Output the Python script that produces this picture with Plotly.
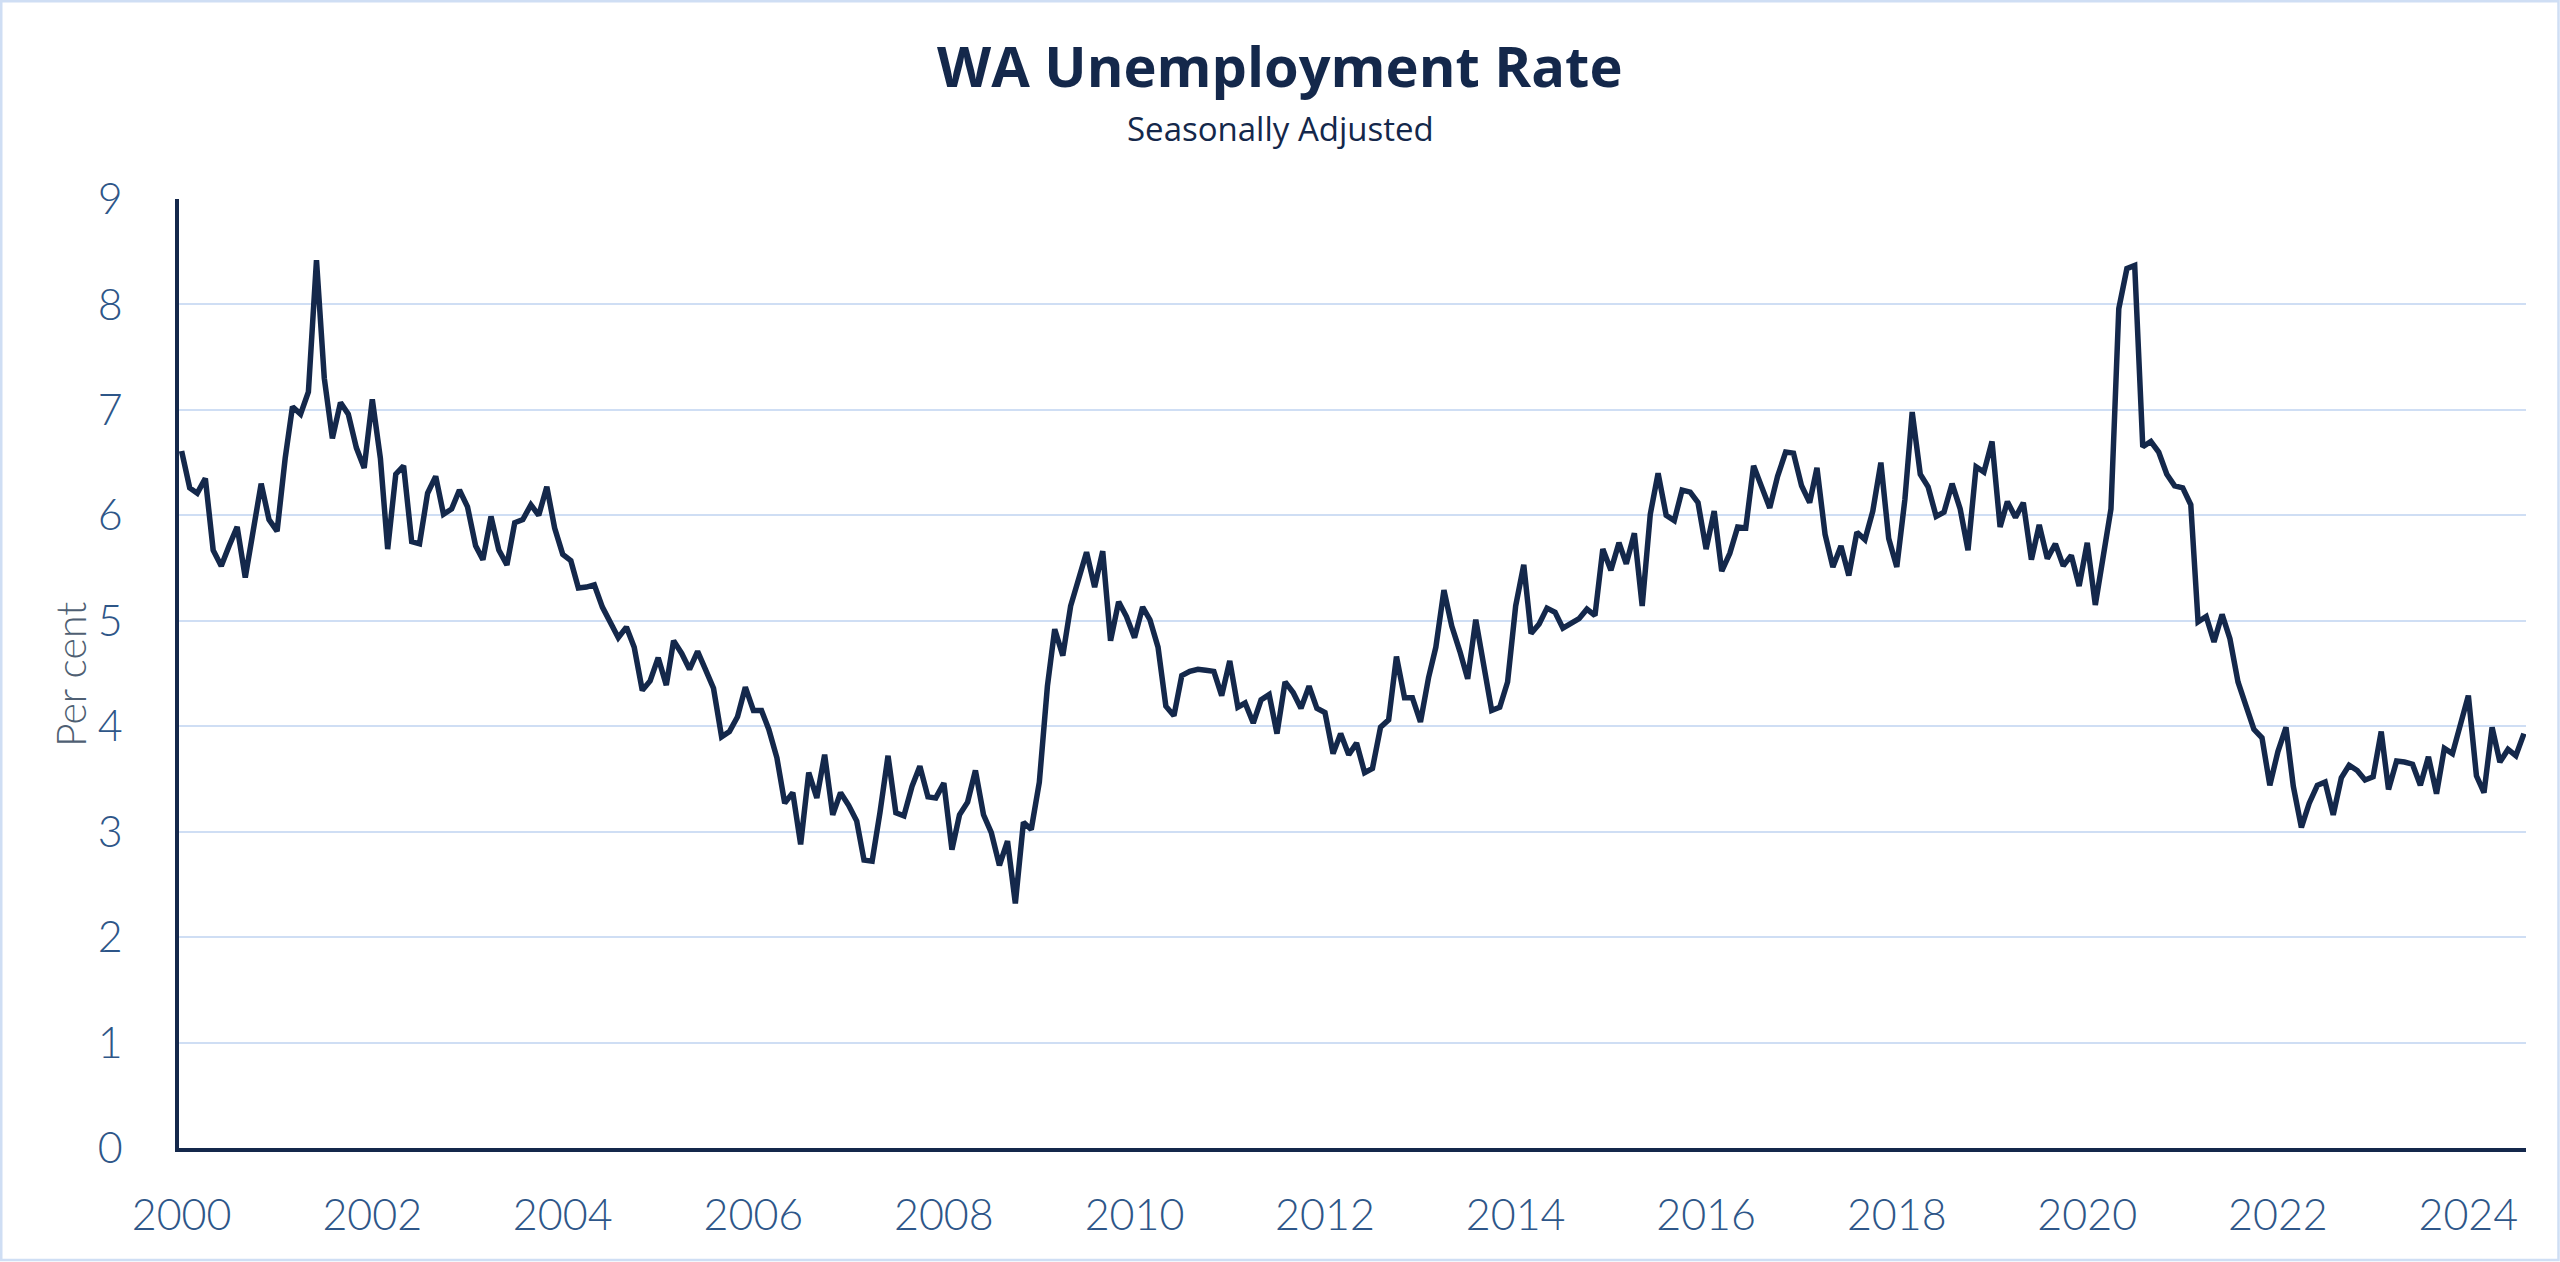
import pandas as pd
import plotly.graph_objects as go

# WA unemployment rate, seasonally adjusted, monthly from Jan 2000 (per cent)
rate_2000_2004 = [
    6.61, 6.26, 6.21, 6.35, 5.67, 5.52, 5.71, 5.89, 5.41, 5.84, 6.30, 5.96,
    5.85, 6.54, 7.03, 6.96, 7.17, 8.42, 7.30, 6.73, 7.07, 6.96, 6.64, 6.45,
    7.10, 6.54, 5.68, 6.39, 6.47, 5.75, 5.73, 6.21, 6.37, 6.01, 6.06, 6.24,
    6.08, 5.71, 5.58, 5.99, 5.67, 5.53, 5.93, 5.96, 6.10, 6.00, 6.27, 5.88,
    5.63, 5.57, 5.31, 5.32, 5.34, 5.13, 5.00, 4.84, 4.94, 4.75, 4.34, 4.43,
]
rate_2005_2009 = [
    4.65, 4.39, 4.81, 4.69, 4.54, 4.71, 4.54, 4.36, 3.90, 3.95, 4.09, 4.37,
    4.15, 4.15, 3.97, 3.70, 3.27, 3.37, 2.88, 3.56, 3.32, 3.73, 3.16, 3.37,
    3.25, 3.10, 2.73, 2.72, 3.18, 3.72, 3.18, 3.15, 3.43, 3.62, 3.33, 3.32,
    3.46, 2.83, 3.16, 3.28, 3.58, 3.16, 2.99, 2.68, 2.91, 2.32, 3.09, 3.02,
    3.47, 4.38, 4.92, 4.67, 5.14, 5.41, 5.65, 5.32, 5.66, 4.81, 5.18, 5.04,
]
rate_2010_2014 = [
    4.84, 5.13, 5.01, 4.75, 4.19, 4.10, 4.48, 4.52, 4.54, 4.53, 4.52, 4.29,
    4.62, 4.18, 4.22, 4.03, 4.25, 4.30, 3.93, 4.42, 4.32, 4.17, 4.38, 4.17,
    4.13, 3.74, 3.93, 3.73, 3.84, 3.56, 3.60, 3.99, 4.06, 4.66, 4.27, 4.27,
    4.04, 4.46, 4.75, 5.29, 4.95, 4.71, 4.45, 5.01, 4.58, 4.15, 4.18, 4.42,
    5.14, 5.53, 4.88, 4.97, 5.12, 5.08, 4.93, 4.97, 5.02, 5.11, 5.05, 5.68,
]
rate_2015_2019 = [
    5.48, 5.74, 5.54, 5.83, 5.14, 6.01, 6.40, 6.00, 5.95, 6.24, 6.22, 6.12,
    5.68, 6.04, 5.47, 5.64, 5.89, 5.88, 6.47, 6.27, 6.07, 6.37, 6.60, 6.59,
    6.28, 6.12, 6.45, 5.82, 5.51, 5.71, 5.43, 5.84, 5.77, 6.04, 6.50, 5.78,
    5.51, 6.15, 6.98, 6.39, 6.27, 5.99, 6.03, 6.30, 6.06, 5.67, 6.46, 6.41,
    6.70, 5.89, 6.13, 5.98, 6.12, 5.58, 5.91, 5.59, 5.73, 5.52, 5.62, 5.33,
]
rate_2020_2024 = [
    5.74, 5.15, 5.59, 6.06, 7.96, 8.34, 8.37, 6.65, 6.70, 6.60, 6.39, 6.28,
    6.26, 6.10, 4.99, 5.04, 4.80, 5.06, 4.83, 4.42, 4.19, 3.97, 3.89, 3.44,
    3.76, 3.99, 3.43, 3.04, 3.27, 3.44, 3.47, 3.16, 3.51, 3.63, 3.58, 3.49,
    3.52, 3.95, 3.40, 3.67, 3.66, 3.64, 3.44, 3.71, 3.36, 3.79, 3.74, 4.01,
    4.29, 3.53, 3.37, 3.99, 3.66, 3.78, 3.72, 3.93,
]
start_month = "2000-01-01"
year_ticks = list(range(2000, 2025, 2))
y_ticks = list(range(0, 10))

rate = rate_2000_2004 + rate_2005_2009 + rate_2010_2014 + rate_2015_2019 + rate_2020_2024
months = pd.date_range(start_month, periods=len(rate), freq="MS")

NAVY = "#14284b"
TICK = "#2e5688"
GRID = "#cfdef4"

W, H = 2560, 1262
L, R, T, B = 179, 34, 199, 114
pw, ph = W - L - R, H - T - B


def px_x(x):
    return (x - L) / pw


def px_y(y):
    return (H - B - y) / ph


fig = go.Figure()
fig.add_trace(go.Scatter(
    x=months, y=rate, mode="lines",
    line=dict(color=NAVY, width=5.5),
    hoverinfo="skip", showlegend=False,
))

fig.update_layout(
    width=W, height=H,
    margin=dict(l=L, r=R, t=T, b=B, autoexpand=False),
    paper_bgcolor="white", plot_bgcolor="white",
    showlegend=False,
    xaxis=dict(
        type="date",
        range=["1999-12-22", "2024-08-09"],
        tickvals=[f"{y}-01-01" for y in year_ticks],
        ticktext=[str(y) for y in year_ticks],
        showgrid=False, zeroline=False,
        showline=True, linecolor=NAVY, linewidth=3.5,
        ticks="", ticklabelstandoff=27,
        tickfont=dict(family="Lato", size=43, color=TICK, weight=300),
    ),
    yaxis=dict(
        range=[0, 9],
        tickvals=y_ticks,
        showgrid=True, gridcolor=GRID, gridwidth=2,
        zeroline=False,
        showline=True, linecolor=NAVY, linewidth=3.5,
        ticks="", ticklabelstandoff=44,
        tickfont=dict(family="Lato", size=43, color=TICK, weight=300),
    ),
    annotations=[
        dict(text="<b>WA Unemployment Rate</b>", x=px_x(1280), y=px_y(65),
             xref="paper", yref="paper", xanchor="center", yanchor="middle",
             showarrow=False,
             font=dict(family="Open Sans", size=56, color=NAVY)),
        dict(text="Seasonally Adjusted", x=px_x(1280), y=px_y(128),
             xref="paper", yref="paper", xanchor="center", yanchor="middle",
             showarrow=False,
             font=dict(family="Open Sans", size=33, color=NAVY)),
        dict(text="Per cent", x=px_x(70), y=px_y(675), textangle=-90,
             xref="paper", yref="paper", xanchor="center", yanchor="middle",
             showarrow=False,
             font=dict(family="Lato", size=41, color="#4f5f73", weight=300)),
    ],
    shapes=[
        dict(type="rect", xref="paper", yref="paper",
             x0=px_x(1.25), x1=px_x(W - 1.5), y0=px_y(H - 2), y1=px_y(1.25),
             line=dict(color=GRID, width=2.5), fillcolor="rgba(0,0,0,0)",
             layer="above"),
    ],
)

fig.write_html("out.html")
